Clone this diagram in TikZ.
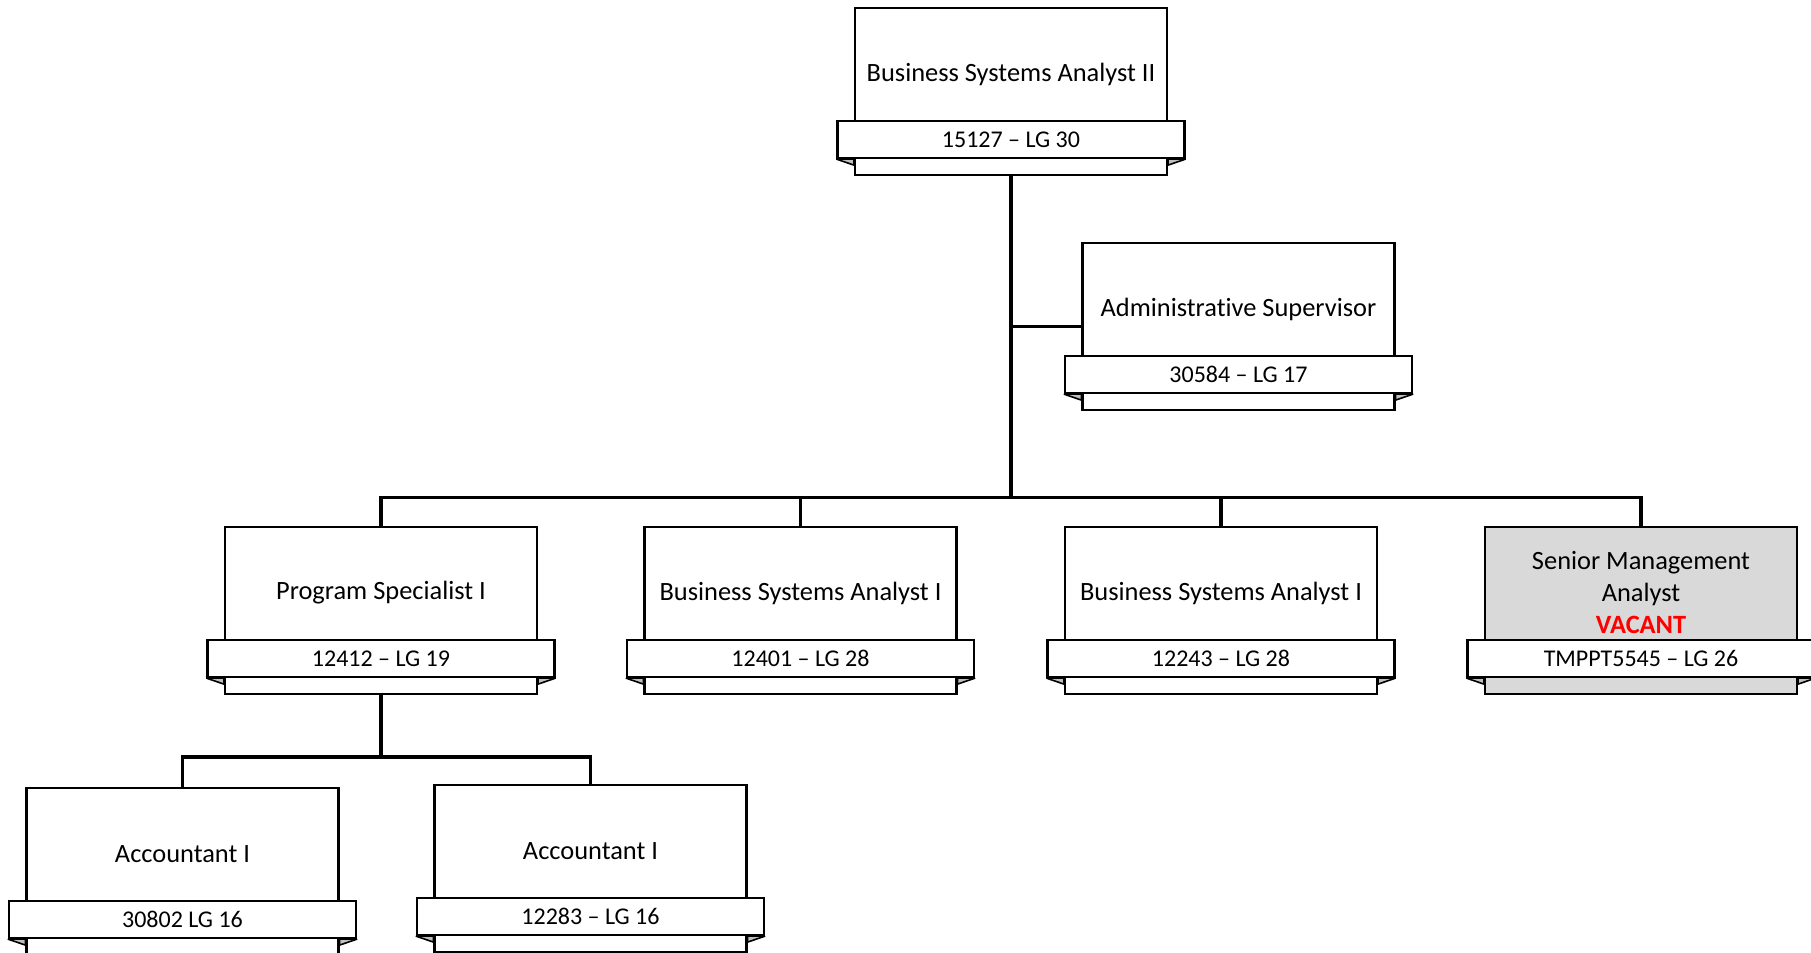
\documentclass[tikz,border=0pt]{standalone}
\usepackage{fontspec}
\setmainfont{Carlito}[Ligatures=NoCommon]
\begin{document}
\begin{tikzpicture}[x=0.5pt,y=-0.5pt,
  box/.style={draw=black,line width=1.1pt,minimum width=156pt,minimum height=83.5pt,inner sep=0pt},
  ribbon/.style={draw=black,fill=white,line width=1.1pt,minimum width=173.5pt,minimum height=18.5pt,inner sep=0pt,font=\fontsize{12}{14}\selectfont},
  titletext/.style={align=center,inner sep=0pt,font=\fontsize{13.2}{16}\selectfont},
  fold/.style={draw=black,fill=black!25,line width=0.8pt,line join=bevel},
  conn/.style={draw=black,line width=1.7pt}]
\useasboundingbox (0,0) rectangle (1811,953);
\clip (0,0) rectangle (1811,953);
\fill[white] (0,0) rectangle (1811,953);
\newcommand\orgbox[6]{%
  \node[box,fill=#4] (#1) at ({#2},{#3+83.5}) {};
  \node[ribbon] (#1r) at ({#2},{#3+131.5}) {#6};
  \filldraw[fold] (#1r.south west) -- ++(17.5,6) -- ++(0,-6) -- cycle;
  \filldraw[fold] (#1r.south east) -- ++(-17.5,6) -- ++(0,-6) -- cycle;
  \node[titletext] (#1t) at ({#2},{#3+66}) {#5};
}
\orgbox{bsa2}{1011}{8}{white}{Business Systems Analyst II}{15127 – LG 30}
\orgbox{adm}{1238.5}{243}{white}{Administrative Supervisor}{30584 – LG 17}
\orgbox{ps}{381}{527}{white}{Program Specialist I}{12412 – LG 19}
\orgbox{bsaa}{800.5}{527}{white}{Business Systems Analyst I}{12401 – LG 28}
\orgbox{bsab}{1221}{527}{white}{Business Systems Analyst I}{12243 – LG 28}
\orgbox{sma}{1641}{527}{black!15}{Senior Management\\Analyst\\\textbf{\color{red}VACANT}}{TMPPT5545 – LG 26}
\orgbox{acca}{182.5}{788}{white}{Accountant I}{30802 LG 16}
\orgbox{accb}{590.5}{785}{white}{Accountant I}{12283 – LG 16}
% connectors
\coordinate (bus) at (1011,497.5);
\coordinate (bus2) at (381,757);
\draw[conn] (bsa2.south) -- (bus);
\draw[conn] (adm.west) -- (adm.west -| bsa2.south);
\draw[conn] (ps.north) -- (ps.north |- bus) -- (sma.north |- bus) -- (sma.north);
\draw[conn] (bsaa.north) -- (bsaa.north |- bus);
\draw[conn] (bsab.north) -- (bsab.north |- bus);
\draw[conn] (ps.south) -- (bus2);
\draw[conn] (acca.north) -- (acca.north |- bus2) -- (accb.north |- bus2) -- (accb.north);
\end{tikzpicture}
\end{document}
